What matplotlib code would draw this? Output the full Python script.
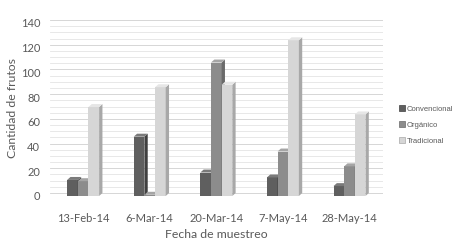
import matplotlib
matplotlib.use('Agg')
import matplotlib.pyplot as plt
from matplotlib.patches import Polygon, Patch
import numpy as np

fechas = ['13-Feb-14', '6-Mar-14', '20-Mar-14', '7-May-14', '28-May-14']
convencional = [13, 48, 19, 15, 8]
organico = [12, 1, 108, 36, 24]
tradicional = [72, 88, 90, 126, 66]
series = ['Convencional', 'Orgánico', 'Tradicional']

front = ['#5f5f5f', '#8c8c8c', '#d6d6d6']
side = ['#404040', '#6a6a6a', '#a8a8a8']
top = ['#7a7a7a', '#a5a5a5', '#e6e6e6']

fig = plt.figure(figsize=(4.53, 2.5), dpi=100)
ax = fig.add_axes([0.11, 0.216, 0.735, 0.704])

w = 0.16
dx, dy = 0.05, 2.4
x = np.arange(len(fechas))

# back wall gridlines
for g in np.arange(0, 141, 5):
    ax.axhline(g + dy, color='#e4e4e4' if g % 20 else '#d0d0d0', lw=0.6, zorder=0)

for k, vals in enumerate([convencional, organico, tradicional]):
    xs = x + (k - 1) * w
    ax.bar(xs, vals, width=w, color=front[k], edgecolor='none', zorder=2 + k)
    for xi, v in zip(xs, vals):
        r = xi + w / 2
        l = xi - w / 2
        ax.add_patch(Polygon([(r, 0), (r + dx, dy), (r + dx, v + dy), (r, v)],
                             closed=True, color=side[k], lw=0, zorder=2 + k))
        ax.add_patch(Polygon([(l, v), (l + dx, v + dy), (r + dx, v + dy), (r, v)],
                             closed=True, color=top[k], lw=0, zorder=2 + k))

ax.set_xlim(-0.5, len(fechas) - 0.5)
ax.set_ylim(0, 140 + dy)
ax.set_yticks(np.arange(0, 141, 20))
ax.set_xticks(x)
ax.set_xticklabels(fechas)
for s in ax.spines.values():
    s.set_visible(False)
ax.tick_params(length=0, labelsize=8, labelcolor='#595959')
ax.tick_params(axis='y', pad=7)
ax.tick_params(axis='x', pad=12)
for t in ax.get_xticklabels() + ax.get_yticklabels():
    t.set_family('Lato')

ax.set_xlabel('Fecha de muestreo', fontsize=8.8, color='#595959', family='Lato', labelpad=4)
ax.set_ylabel('Cantidad de frutos', fontsize=8.8, color='#595959', family='Lato')
ax.yaxis.set_label_coords(-0.095, 0.5)

handles = [Patch(facecolor=front[k], edgecolor=side[k], lw=0.5) for k in range(3)]
fig.legend(handles, series, loc='center left', bbox_to_anchor=(0.865, 0.5),
           frameon=False, handlelength=0.8, handleheight=0.8,
           handletextpad=0.3, labelspacing=1.1, labelcolor='#595959',
           prop={'family': 'Liberation Sans', 'size': 5.5})

fig.savefig('out.png', dpi=100)
